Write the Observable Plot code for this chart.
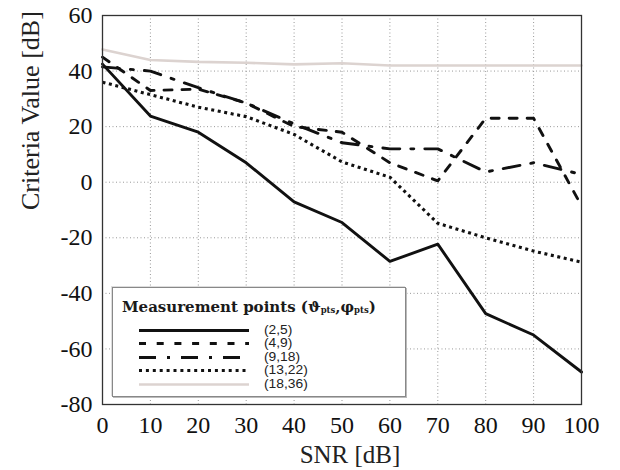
<!DOCTYPE html>
<html><head><meta charset="utf-8">
<script src="https://cdn.jsdelivr.net/npm/d3@7"></script>
<script src="https://cdn.jsdelivr.net/npm/@observablehq/plot@0.6"></script>
<style>
body{margin:0;background:#fff;}
#wrap{position:relative;width:620px;height:470px;overflow:hidden;}
#legend{position:absolute;left:112px;top:287px;width:292px;height:108px;background:#fff;border:1px solid #888;box-shadow:1px 1px 0 #bbb, -1px -1px 0 #ddd;}
#legend .title{position:absolute;left:9px;top:11px;font:bold 15px "DejaVu Serif",serif;line-height:17px;color:#1a1a1a;white-space:nowrap;}
#legend .title sub{font-size:8.5px;vertical-align:-1px;line-height:0;}
#legend .row{position:absolute;left:0;height:13px;width:290px;}
#legend .row svg{position:absolute;left:25px;top:0;}
#legend .row span{position:absolute;display:block;left:151px;top:0;font:12px "Liberation Sans",sans-serif;line-height:13px;color:#222;transform:scaleX(1.15);transform-origin:left center;white-space:nowrap;}
</style></head><body><div id="wrap"></div>
<script>
// SNR values (x)
const snr = [0, 10, 20, 30, 40, 50, 60, 70, 80, 90, 100];
// Series names
const seriesNames = ["(2,5)", "(4,9)", "(9,18)", "(13,22)", "(18,36)"];
// Criteria values [dB] per series
const v_2_5   = [42.5, 23.8, 18.0, 7.0, -7.1, -14.5, -28.5, -22.3, -47.3, -55.0, -68.3];
const v_4_9   = [45.0, 33.0, 33.5, 28.5, 20.0, 18.0, 7.0, 0.5, 23.0, 23.0, -8.5];
const v_9_18  = [41.5, 40.0, 34.0, 28.5, 21.0, 14.2, 12.0, 12.0, 3.7, 7.0, 2.8];
const v_13_22 = [36.0, 31.5, 27.0, 23.6, 17.2, 7.3, 1.8, -14.8, -20.0, -24.8, -28.8];
const v_18_36 = [47.8, 44.0, 43.3, 43.0, 42.4, 42.8, 42.0, 42.0, 42.0, 42.0, 42.0];
const seriesValues = [v_2_5, v_4_9, v_9_18, v_13_22, v_18_36];
// Axis ticks
const xTicks = [0, 10, 20, 30, 40, 50, 60, 70, 80, 90, 100];
const yTicks = [-80, -60, -40, -20, 0, 20, 40, 60];

// Styles (kept apart from the data)
const styles = {
  "(2,5)":   {stroke: "#111", width: 2.9, dash: null,           lDash: null},
  "(4,9)":   {stroke: "#111", width: 2.9, dash: "8,10",         lDash: "7,10.7"},
  "(9,18)":  {stroke: "#111", width: 2.9, dash: "17,11,3,11",   lDash: "17,11,3,11"},
  "(13,22)": {stroke: "#111", width: 3.1, dash: "3,3.6",        lDash: "3,3.9"},
  "(18,36)": {stroke: "#dcd3d0", width: 2.6, dash: null,        lDash: null}
};

const rows = [];
seriesNames.forEach((name, i) => {
  snr.forEach((x, j) => rows.push({snr: x, value: seriesValues[i][j], series: name}));
});

const drawOrder = ["(18,36)", "(13,22)", "(9,18)", "(4,9)", "(2,5)"];

const chart = Plot.plot({
  width: 620,
  height: 470,
  marginLeft: 102,
  marginRight: 39,
  marginTop: 15,
  marginBottom: 66,
  style: {fontFamily: "'Liberation Serif', serif", fontSize: "24px", background: "#fff", color: "#111"},
  x: {domain: [0, 100], ticks: xTicks},
  y: {domain: [-80, 60], ticks: yTicks},
  marks: [
    Plot.gridX(xTicks, {stroke: "#999", strokeOpacity: 1, strokeWidth: 1, strokeDasharray: "1,2.5"}),
    Plot.gridY(yTicks, {stroke: "#999", strokeOpacity: 1, strokeWidth: 1, strokeDasharray: "1,2.5"}),
    ...drawOrder.map(name => Plot.line(rows.filter(d => d.series === name), {
      x: "snr", y: "value",
      stroke: styles[name].stroke,
      strokeWidth: styles[name].width,
      strokeDasharray: styles[name].dash,
      strokeLinecap: name === "(13,22)" ? "butt" : "round",
      strokeLinejoin: "round"
    })),
    Plot.frame({stroke: "#333", strokeWidth: 1.3}),
    Plot.axisX(xTicks, {tickSize: 0, tickPadding: 11, fontSize: 24, label: null, tickFormat: d => String(d)}),
    Plot.axisY(yTicks, {tickSize: 0, tickPadding: 10, fontSize: 24, label: null, tickFormat: d => String(d)}),
    Plot.text(["SNR [dB]"], {frameAnchor: "bottom", dy: 58, lineAnchor: "bottom", fontSize: 25, dx: 8, fill: "#222"}),
    Plot.text(["Criteria Value [dB]"], {frameAnchor: "left", dx: -72, rotate: -90, fontSize: 26, fill: "#222"})
  ]
});

const wrap = document.getElementById("wrap");
wrap.appendChild(chart);

// Legend
const legend = document.createElement("div");
legend.id = "legend";
legend.innerHTML = '<div class="title">Measurement points (ϑ<sub>pts</sub>,φ<sub>pts</sub>)</div>';
seriesNames.forEach((name, i) => {
  const row = document.createElement("div");
  row.className = "row";
  row.style.top = (35.5 + i * 13.5) + "px";
  const st = styles[name];
  row.innerHTML = `<svg width="112" height="13"><line x1="1" x2="111" y1="6.5" y2="6.5" stroke="${st.stroke}" stroke-width="${st.width}" ${st.lDash ? `stroke-dasharray="${st.lDash}"` : ""} stroke-linecap="butt"/></svg><span>${name}</span>`;
  legend.appendChild(row);
});
wrap.appendChild(legend);
</script>
</body></html>
